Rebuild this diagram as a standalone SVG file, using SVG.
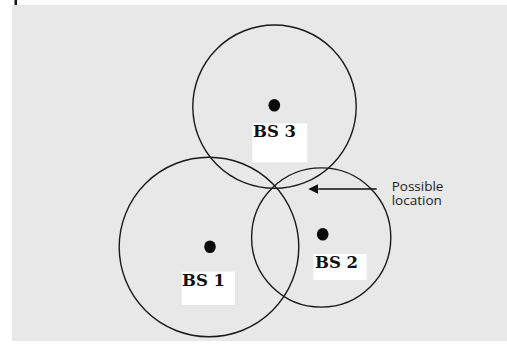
<svg xmlns="http://www.w3.org/2000/svg" width="507" height="350" viewBox="0 0 507 350">
  <style>
    .range { fill: none; stroke: #1a1a1a; stroke-width: 1.4; }
    .site { fill: #0a0a0a; }
    .tagbg { fill: #ffffff; }
    .tag { font-family: "DejaVu Serif", "Liberation Serif", serif; font-weight: bold; font-size: 16.5px; fill: #111111; }
    .note { font-family: "Open Sans", "Liberation Sans", sans-serif; font-size: 13.5px; fill: #222222; }
  </style>
  <defs>
    <marker id="head" viewBox="0 0 10 10" refX="0" refY="5" markerWidth="10" markerHeight="10" markerUnits="userSpaceOnUse" orient="auto-start-reverse">
      <path d="M0,0 L10,5 L0,10 z" fill="#111111"/>
    </marker>
  </defs>

  <rect x="0" y="0" width="507" height="350" fill="#ffffff"/>
  <rect x="12" y="5" width="495" height="336" fill="#e8e8e8"/>
  <rect x="14.5" y="0" width="2.5" height="5" fill="#111111"/>

  <g id="bs3">
    <circle class="range" cx="274.5" cy="106.7" r="81.7"/>
    <ellipse class="site" cx="274.3" cy="105.2" rx="5.8" ry="6.3"/>
    <rect class="tagbg" x="252.3" y="123.3" width="55" height="39"/>
    <text class="tag" x="253" y="136.7">BS 3</text>
  </g>

  <g id="bs1">
    <circle class="range" cx="209" cy="247" r="89.8"/>
    <ellipse class="site" cx="210" cy="246.7" rx="5.8" ry="6.3"/>
    <rect class="tagbg" x="181.7" y="271.7" width="53.3" height="33.3"/>
    <text class="tag" x="182" y="285.7">BS 1</text>
  </g>

  <g id="bs2">
    <circle class="range" cx="321.2" cy="237.5" r="69.6"/>
    <ellipse class="site" cx="322.7" cy="234.3" rx="5.8" ry="6.3"/>
    <rect class="tagbg" x="313.3" y="254" width="53.4" height="26"/>
    <text class="tag" x="315" y="268.3">BS 2</text>
  </g>

  <g id="connectors">
    <line x1="376.7" y1="189" x2="318.3" y2="189" stroke="#111111" stroke-width="1.4" marker-end="url(#head)"/>
  </g>

  <g id="label">
    <text class="note" x="391.7" y="191.3">Possible</text>
    <text class="note" x="391.7" y="205.3">location</text>
  </g>
</svg>
